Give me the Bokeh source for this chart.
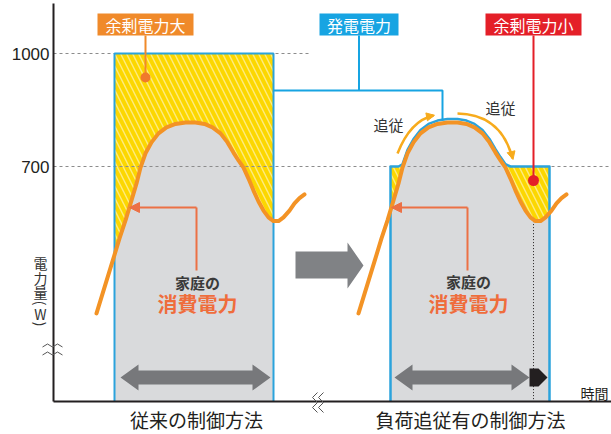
import numpy as np
from bokeh.plotting import figure
from bokeh.models import Range1d, FixedTicker, LinearAxis, Arrow, NormalHead
from bokeh.core.properties import value
from bokeh.embed import file_html
from bokeh.resources import INLINE

# ---------------- data ----------------
y_ticks = [700, 1000]
categories = ["従来の制御方法", "負荷追従有の制御方法"]
category_t = [143, 417]
# household consumption profile (time, W) (left panel)
cons_t = [43, 51, 59, 66, 72, 78, 83, 87, 92, 98, 105, 113, 122, 132, 142, 151, 159, 167,
          174, 180, 185, 190, 195, 200, 205, 210, 215, 220, 225, 230, 236, 241, 246, 251]
cons_w = [310, 379, 448, 509, 557, 610, 655, 697, 735, 764, 788, 804, 813, 817, 817, 813, 804, 788,
          764, 737, 716, 697, 668, 636, 607, 583, 565, 555, 555, 565, 583, 602, 616, 626]
panel_shift = [0, 262]      # time offset of the profile in each panel
gen_start = [61, 337]       # generation window start
gen_end = [220, 496]        # generation window end
gen_level = [1000, 700]     # generation (left) / minimum generation (right), W
base_w = 76                 # bottom of chart (broken axis)
follow_margin = 9           # load-following generation above consumption, W
label_texts = ["余剰電力大", "発電電力", "余剰電力小"]

# ---------------- styles ----------------
JP = "Noto Sans CJK JP"
YEL = "#fcd700"
GRAY = "#d9dadc"
ORANGE = "#f39325"
BLUE = "#2ba3dc"
OR2 = "#ec7045"
DARK = "#231f20"


def T(px):
    return px - 53.0


def W(py):
    return 1000.0 - (py - 53.0) * 300.0 / 113.0


p = figure(width=611, height=434, output_backend="svg", toolbar_location=None,
           x_range=Range1d(T(0), T(611)), y_range=Range1d(W(434), W(0)),
           min_border=0, x_axis_type=None, y_axis_type=None)
p.outline_line_color = None
p.background_fill_color = "white"

# ---- axes ----
yax = LinearAxis(fixed_location=0, bounds=(base_w, W(3)), ticker=FixedTicker(ticks=y_ticks))
yax.axis_line_width = 2
yax.axis_line_color = DARK
yax.major_tick_out = 0
yax.major_tick_in = 0
yax.minor_tick_out = 0
yax.minor_tick_in = 0
yax.major_label_text_font = "Liberation Sans"
yax.major_label_text_font_size = "17px"
yax.major_label_text_color = DARK
yax.major_label_standoff = 4
p.add_layout(yax, "left")

xax = LinearAxis(fixed_location=base_w, bounds=(0, T(611)), ticker=FixedTicker(ticks=category_t),
                 major_label_overrides={category_t[0]: categories[0], category_t[1]: categories[1]})
xax.axis_line_width = 2
xax.axis_line_color = DARK
xax.major_tick_out = 0
xax.major_tick_in = 0
xax.minor_tick_out = 0
xax.minor_tick_in = 0
xax.major_label_text_font = JP
xax.major_label_text_font_size = "19px"
xax.major_label_text_color = DARK
xax.major_label_standoff = 4
p.add_layout(xax, "below")

# ---- panels: fills ----
profiles = []
for i in range(2):
    t = np.array(cons_t, float) + panel_shift[i]
    w = np.array(cons_w, float)
    a, b = gen_start[i], gen_end[i]
    inside = (t > a) & (t < b)
    tx = np.concatenate([[a], t[inside], [b]])
    wx = np.interp(tx, t, w)
    profiles.append((t, w, tx, wx))
    p.quad(left=[a], right=[b], bottom=[base_w], top=[gen_level[i]], fill_color=YEL,
           line_color=None, hatch_pattern="\\", hatch_color="white", hatch_alpha=0.5,
           hatch_scale=12, hatch_weight=1.4)
    p.varea(x=tx, y1=np.full_like(tx, base_w), y2=wx, fill_color=GRAY)

# ---- dashed reference lines ----
p.segment(x0=[0, 0], y0=[1000, 700], x1=[T(310), T(609)], y1=[1000, 700],
          line_color="#8c8c8c", line_width=1.2, line_dash="3 3")

# ---- generation outlines ----
a, b = gen_start[0], gen_end[0]
p.line(x=[a, a, b, b], y=[base_w, gen_level[0], gen_level[0], base_w], line_color=BLUE, line_width=2)
t, w, tx, wx = profiles[1]
a, b = gen_start[1], gen_end[1]
gw = np.maximum(wx + follow_margin, gen_level[1])
p.line(x=np.concatenate([[a], tx, [b]]), y=np.concatenate([[base_w], gw, [base_w]]),
       line_color=BLUE, line_width=2.5, line_join="round")

# dotted marker line at end of following
p.segment(x0=[T(533)], y0=[555], x1=[T(533)], y1=[base_w], line_color=DARK,
          line_width=1, line_dash="1 2")

# ---- consumption curves ----
for i in range(2):
    t, w, tx, wx = profiles[i]
    p.line(x=t, y=w, line_color=ORANGE, line_width=4, line_join="round", line_cap="round")

# ---- callout labels ----
lab_x = [T(145), T(358.5), T(533)]
lab_w = [96, 79, 96]
lab_c = ["#f08a2a", "#17a4e2", "#e41f28"]
p.rect(x=lab_x, y=[W(24)] * 3, width=lab_w, height=[22] * 3, width_units="screen",
       height_units="screen", fill_color=lab_c, line_color=None)
p.text(x=lab_x, y=[W(24.5)] * 3, text=label_texts, text_font=value(JP), text_font_size="16px",
       text_color="white", text_align="center", text_baseline="middle")
# connectors
p.segment(x0=[T(145)], y0=[W(35)], x1=[T(145)], y1=[W(77)], line_color="#f08a2a", line_width=2)
p.segment(x0=[T(533)], y0=[W(35)], x1=[T(533)], y1=[W(180)], line_color="#e41f28", line_width=2)
p.multi_line(xs=[[T(358.5), T(358.5)], [T(273), T(442), T(442)]],
             ys=[[W(35), W(90)], [W(90), W(90), W(119)]], line_color="#17a4e2", line_width=2)
p.scatter(x=[T(145)], y=[W(77)], size=10, fill_color="#f07a2c", line_color=None)
p.scatter(x=[T(533)], y=[W(180)], size=11, fill_color="#e41f28", line_color=None)

# ---- "追従" arcs ----
ARC = "#f7ab1c"
p.quadratic(x0=[T(397), T(457)], y0=[W(153), W(113)], x1=[T(433), T(512)], y1=[W(115), W(158)],
            cx=[T(410), T(501)], cy=[W(120), W(114)], line_color=ARC, line_width=2.5)
p.add_layout(Arrow(end=NormalHead(size=8, fill_color=ARC, line_color=ARC),
                   x_start=T(428), y_start=W(116), x_end=T(434), y_end=W(114.8),
                   line_color=ARC, line_width=2.5))
p.add_layout(Arrow(end=NormalHead(size=8, fill_color=ARC, line_color=ARC),
                   x_start=T(511), y_start=W(153), x_end=T(512.5), y_end=W(159),
                   line_color=ARC, line_width=2.5))
p.text(x=[T(388), T(500)], y=[W(124), W(107)], text=["追従", "追従"], text_font=value(JP),
       text_font_size="15px", text_color="#333333", text_align="center", text_baseline="middle")

# ---- consumption pointers & text ----
for px_v, tip in [(196, 129), (467, 391)]:
    p.segment(x0=[T(px_v)], y0=[W(270)], x1=[T(px_v)], y1=[W(207)], line_color=OR2, line_width=2)
    p.add_layout(Arrow(end=NormalHead(size=10, fill_color=OR2, line_color=OR2),
                       x_start=T(px_v), y_start=W(207), x_end=T(tip), y_end=W(207),
                       line_color=OR2, line_width=2))
p.text(x=[T(197), T(468)], y=[W(282), W(281)], text=["家庭の", "家庭の"], text_font=value(JP),
       text_font_size="15px", text_font_style="bold", text_color="#3a3a3a",
       text_align="center", text_baseline="middle")
p.text(x=[T(197), T(468)], y=[W(303), W(303)], text=["消費電力", "消費電力"], text_font=value(JP),
       text_font_size="20px", text_font_style="bold", text_color="#ef6d3c",
       text_align="center", text_baseline="middle")

# ---- arrows ----
mid = [(295, 251), (347, 251), (347, 242), (363, 265), (347, 288), (347, 278), (295, 278)]
p.patch(x=[T(a) for a, _ in mid], y=[W(c) for _, c in mid], fill_color="#808285", line_color=None)


def dbl(x0, x1, yc=377):
    pts = [(x0, yc), (x0 + 18, yc - 13), (x0 + 18, yc - 7), (x1 - 18, yc - 7), (x1 - 18, yc - 13),
           (x1, yc), (x1 - 18, yc + 13), (x1 - 18, yc + 7), (x0 + 18, yc + 7), (x0 + 18, yc + 13)]
    return [T(a) for a, _ in pts], [W(c) for _, c in pts]


for x0, x1 in [(120, 270), (394, 529)]:
    xs, ys = dbl(x0, x1)
    p.patch(x=xs, y=ys, fill_color="#77787b", line_color=None)
blk = [(529, 368), (538, 368), (547, 377), (538, 386), (529, 386)]
p.patch(x=[T(a) for a, _ in blk], y=[W(c) for _, c in blk], fill_color=DARK, line_color=None)

# ---- axis texts ----
p.text(x=[T(594)], y=[W(392)], text=["時間"], text_font=value(JP), text_font_size="14px",
       text_color=DARK, text_align="center", text_baseline="middle")
ychars = ["電", "力", "量", "W"]
p.text(x=[T(40)] * 4, y=[W(262), W(277), W(291.5), W(313)], text=ychars, text_font=value(JP),
       text_font_size="14px", text_color="#333333", text_align="center", text_baseline="middle")
p.text(x=[T(40), T(40)], y=[W(302.5), W(323.5)], text=["(", ")"], angle=-np.pi / 2,
       text_font=value(JP), text_font_size="14px", text_color="#333333",
       text_align="center", text_baseline="middle")

# ---- axis break marks ----
wx_ = [42, 47, 52, 57, 62]
wy_ = [1.5, -1.5, 1.5, -1.5, 1.5]
brk = p.multi_line(xs=[[T(a) for a in wx_]] * 2,
                   ys=[[W(345 + d) for d in wy_], [W(353 + d) for d in wy_]],
                   line_color="#555555", line_width=1)
brk.level = "overlay"
zy = [392, 397, 402, 407, 412]
zx = [3, -2, 3, -2, 3]
brk2 = p.multi_line(xs=[[T(314 + d) for d in zx], [T(320 + d) for d in zx]],
                    ys=[[W(c) for c in zy]] * 2, line_color="#555555", line_width=1)
brk2.level = "overlay"

open("out.html", "w").write(file_html(p, INLINE))
